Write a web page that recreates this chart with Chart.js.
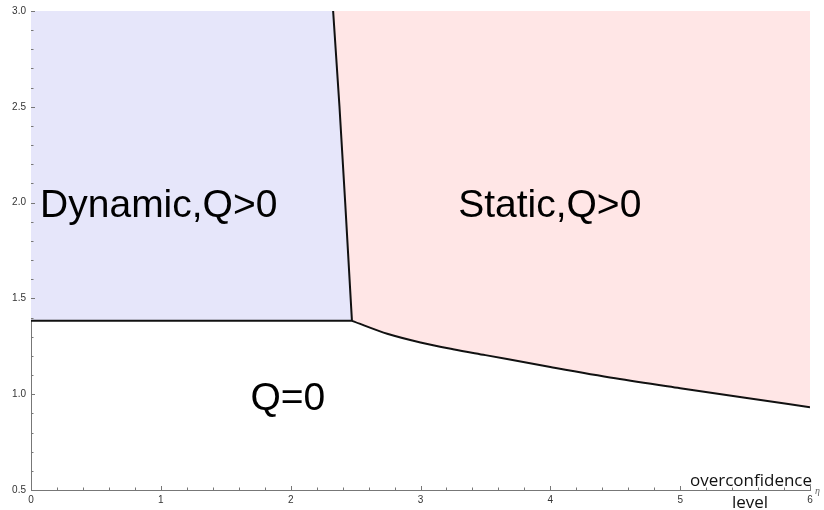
<!DOCTYPE html>
<html>
<head>
<meta charset="utf-8">
<script src="https://cdn.jsdelivr.net/npm/chart.js@4"></script>
<style>
    html, body { margin: 0; padding: 0; background: #fff; }
    #wrap { width: 824px; height: 510px; position: relative; }
</style>
</head>
<body>
<div id="wrap"><canvas id="phaseChart"></canvas></div>
<script>
// boundary values
const thresholdY = 1.383;      // horizontal boundary Q=0 / dynamic
const kinkX = 2.472;           // where the three regions meet

// boundary between dynamic and static (top to bottom)
const splitCurveY = [3.0, 2.5, 2.0, 1.5, 1.383];
const splitCurveX = [2.327, 2.376, 2.420, 2.462, 2.472];

// boundary between static and Q=0 (left to right)
const lowerCurveX = [2.472, 2.75, 3.0, 3.25, 3.5, 4.0, 4.5, 5.0, 5.5, 6.0];
const lowerCurveY = [1.383, 1.314, 1.270, 1.235, 1.204, 1.142, 1.083, 1.031, 0.981, 0.932];

const xRange = [0, 6];
const yRange = [0.5, 3.0];

// region labels, anchored in data coordinates
const regionLabels = ['Dynamic,Q>0', 'Static,Q>0', 'Q=0'];
const regionLabelX = [0.07, 3.29, 1.69];
const regionLabelY = [1.925, 1.925, 0.92];

function pts(xs, ys) {
    return xs.map((x, i) => ({ x: x, y: ys[i] }));
}

const splitCurve = pts(splitCurveX, splitCurveY);
const lowerCurve = pts(lowerCurveX, lowerCurveY);

const dynamicRegion = [{ x: xRange[0], y: yRange[1] }]
    .concat(splitCurve)
    .concat([{ x: xRange[0], y: thresholdY }]);

const staticRegion = splitCurve
    .concat(lowerCurve.slice(1))
    .concat([{ x: xRange[1], y: yRange[1] }]);

const flatLine = [{ x: xRange[0], y: thresholdY }, { x: kinkX, y: thresholdY }];

// inward Mathematica-like ticks and the region text
const decorations = {
    id: 'decorations',
    afterDatasetsDraw(chart) {
        const c = chart.ctx;
        const xs = chart.scales.x;
        const ys = chart.scales.y;
        const area = chart.chartArea;

        c.save();
        c.strokeStyle = '#777';
        c.lineWidth = 1;
        xs.ticks.forEach(t => {
            const px = Math.round(xs.getPixelForValue(t.value)) + 0.5;
            const major = Math.abs(t.value - Math.round(t.value)) < 1e-6;
            c.beginPath();
            c.moveTo(px, area.bottom);
            c.lineTo(px, area.bottom - (major ? 4 : 2.5));
            c.stroke();
        });
        ys.ticks.forEach(t => {
            const py = Math.round(ys.getPixelForValue(t.value)) + 0.5;
            const major = Math.abs(t.value * 2 - Math.round(t.value * 2)) < 1e-6;
            c.beginPath();
            c.moveTo(area.left, py);
            c.lineTo(area.left + (major ? 4 : 2.5), py);
            c.stroke();
        });

        c.fillStyle = '#000';
        c.font = '39px "Liberation Sans", Arial, sans-serif';
        c.textBaseline = 'alphabetic';
        c.textAlign = 'left';
        regionLabels.forEach((txt, i) => {
            c.fillText(txt, xs.getPixelForValue(regionLabelX[i]), ys.getPixelForValue(regionLabelY[i]));
        });

        c.font = '17px "Open Sans", sans-serif';
        c.fillStyle = '#111';
        c.textAlign = 'center';
        c.fillText('overconfidence', 751, 486);
        c.fillText('level', 750, 508);

        c.font = 'italic 10px "Liberation Serif", serif';
        c.fillStyle = '#666';
        c.textAlign = 'left';
        c.fillText('η', 815, 494);
        c.restore();
    }
};

new Chart(document.getElementById('phaseChart'), {
    type: 'scatter',
    data: {
        datasets: [
            {
                data: dynamicRegion,
                showLine: true,
                fill: 'shape',
                backgroundColor: '#e6e6fa',
                borderWidth: 0,
                pointRadius: 0,
                order: 2
            },
            {
                data: staticRegion,
                showLine: true,
                fill: 'shape',
                backgroundColor: '#ffe6e6',
                borderWidth: 0,
                pointRadius: 0,
                order: 2
            },
            {
                data: flatLine,
                showLine: true,
                borderColor: '#111',
                borderWidth: 2,
                pointRadius: 0,
                order: 0
            },
            {
                data: splitCurve,
                showLine: true,
                borderColor: '#111',
                borderWidth: 2,
                pointRadius: 0,
                order: 0
            },
            {
                data: lowerCurve,
                showLine: true,
                borderColor: '#111',
                borderWidth: 2,
                pointRadius: 0,
                cubicInterpolationMode: 'monotone',
                order: 0
            }
        ]
    },
    options: {
        responsive: true,
        maintainAspectRatio: false,
        animation: false,
        layout: { padding: { top: 11, right: 14, left: 0, bottom: 0 } },
        plugins: {
            legend: { display: false },
            tooltip: { enabled: false }
        },
        scales: {
            x: {
                type: 'linear',
                min: xRange[0],
                max: xRange[1],
                afterFit: s => { s.height = 20; },
                grid: { display: false, drawTicks: false },
                border: { display: true, color: '#777', width: 1 },
                ticks: {
                    stepSize: 0.2,
                    autoSkip: false,
                    maxRotation: 0,
                    padding: 4,
                    color: '#333',
                    font: { size: 10, family: '"Liberation Sans", Arial, sans-serif' },
                    callback: v => Math.abs(v - Math.round(v)) < 1e-6 ? String(Math.round(v)) : ''
                }
            },
            y: {
                type: 'linear',
                min: yRange[0],
                max: yRange[1],
                afterFit: s => { s.width = 31; },
                grid: { display: false, drawTicks: false },
                border: { display: true, color: '#777', width: 1 },
                ticks: {
                    stepSize: 0.1,
                    autoSkip: false,
                    padding: 5,
                    color: '#333',
                    font: { size: 10, family: '"Liberation Sans", Arial, sans-serif' },
                    callback: v => Math.abs(v * 2 - Math.round(v * 2)) < 1e-6 ? v.toFixed(1) : ''
                }
            }
        }
    },
    plugins: [decorations]
});
</script>
</body>
</html>
